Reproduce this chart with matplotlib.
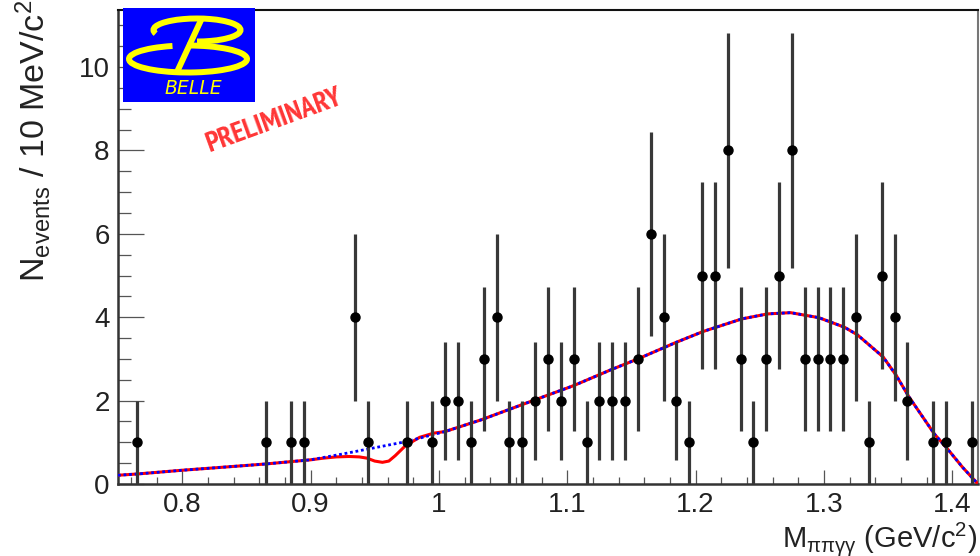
import numpy as np
import matplotlib
matplotlib.use('Agg')
import matplotlib.pyplot as plt
from matplotlib import font_manager
from matplotlib.patches import Arc
from matplotlib.ticker import MultipleLocator

plt.rcParams['font.family'] = ['Liberation Sans', 'DejaVu Sans']
plt.rcParams['mathtext.fontset'] = 'custom'
plt.rcParams['mathtext.rm'] = 'Liberation Sans'
plt.rcParams['mathtext.it'] = 'Liberation Sans:italic'

# data points (bin centres, 10 MeV bins)
mass = [0.765, 0.865, 0.885, 0.895, 0.935, 0.945, 0.975, 0.995,
        1.005, 1.015, 1.025, 1.035, 1.045, 1.055, 1.065, 1.075, 1.085,
        1.095, 1.105, 1.115, 1.125, 1.135, 1.145, 1.155, 1.165, 1.175,
        1.185, 1.195, 1.205, 1.215, 1.225, 1.235, 1.245, 1.255, 1.265,
        1.275, 1.285, 1.295, 1.305, 1.315, 1.325, 1.335, 1.345, 1.355,
        1.365, 1.385, 1.395, 1.415]
counts = [1, 1, 1, 1, 4, 1, 1, 1,
          2, 2, 1, 3, 4, 1, 1, 2, 3,
          2, 3, 1, 2, 2, 2, 3, 6, 4,
          2, 1, 5, 5, 8, 3, 1, 3, 5,
          8, 3, 3, 3, 3, 4, 1, 5, 4,
          2, 1, 1, 1]

# background curve (blue dotted)
bkg_x = [0.75, 0.765, 0.80, 0.835, 0.865, 0.90, 0.925, 0.945, 0.975,
         1.005, 1.033, 1.075, 1.105, 1.134, 1.155, 1.185, 1.206, 1.236,
         1.256, 1.274, 1.296, 1.316, 1.326, 1.346, 1.356, 1.366, 1.376,
         1.386, 1.396, 1.408, 1.42]
bkg_y = [0.21, 0.24, 0.33, 0.41, 0.48, 0.58, 0.72, 0.84, 1.02,
         1.26, 1.54, 2.02, 2.36, 2.74, 3.0, 3.40, 3.66, 3.96,
         4.08, 4.11, 3.99, 3.76, 3.58, 3.05, 2.62, 2.10, 1.65,
         1.20, 0.85, 0.40, 0.0]

# total fit in the dip region (red)
dip_x = [0.91, 0.92, 0.93, 0.938, 0.944, 0.950, 0.956, 0.961, 0.966,
         0.974, 0.985, 0.996]
dip_y = [0.62, 0.65, 0.66, 0.65, 0.62, 0.55, 0.52, 0.55, 0.68,
         0.92, 1.12, 1.22]

bx = np.array(bkg_x)
by = np.array(bkg_y)
tot_x = np.concatenate([bx[bx <= 0.90], dip_x, bx[bx >= 1.005]])
tot_y = np.concatenate([by[bx <= 0.90], dip_y, by[bx >= 1.005]])

# pick a narrow font for the stamp if one is around (narrow before condensed)
narrow = None
for key in ['narrow', 'condensed']:
    for f in font_manager.fontManager.ttflist:
        fn = f.fname.lower()
        if key in fn and 'bold' in fn and 'mono' not in fn and 'oblique' not in fn \
                and 'italic' not in fn:
            narrow = f.name
            break
    if narrow:
        break

fig = plt.figure(figsize=(9.8, 5.56), dpi=100)
ax = fig.add_axes([118 / 980, 1 - 484 / 556, 860 / 980, 474 / 556])

ax.plot(tot_x, tot_y, color='#ff0000', lw=2.2, zorder=3)
ax.plot(bkg_x, bkg_y, color='#0000ff', lw=2.0, ls=(0, (1, 1)), zorder=4)

err = np.sqrt(counts)
ax.errorbar(mass, counts, yerr=err, fmt='o', color='black', ms=6.5,
            ecolor='#383838', elinewidth=2.3, capsize=0, zorder=5)

ax.set_xlim(0.75, 1.42)
ax.set_ylim(0, 11.37)
ax.xaxis.set_major_locator(MultipleLocator(0.1))
ax.xaxis.set_minor_locator(MultipleLocator(0.02))
ax.yaxis.set_major_locator(MultipleLocator(2))
ax.yaxis.set_minor_locator(MultipleLocator(0.5))
ax.set_xticks([0.8, 0.9, 1.0, 1.1, 1.2, 1.3, 1.4])
ax.set_xticklabels(['0.8', '0.9', '1', '1.1', '1.2', '1.3', '1.4'])

ax.tick_params(axis='both', which='both', direction='in', colors='#555555',
               labelcolor='#222222', labelsize=20, width=0.9)
ax.tick_params(axis='x', which='major', length=10, pad=6)
ax.tick_params(axis='x', which='minor', length=5)
ax.tick_params(axis='y', which='major', length=19, pad=6)
ax.tick_params(axis='y', which='minor', length=9.5)
for side in ['left', 'bottom']:
    ax.spines[side].set_linewidth(1.8)
    ax.spines[side].set_color('#333333')
ax.spines['top'].set_linewidth(1.5)
ax.spines['top'].set_color('#111111')
ax.spines['right'].set_linewidth(1.5)
ax.spines['right'].set_color('#777777')

fig.text(977 / 980, 1 - 547 / 556, r'M$_{\mathrm{ππγγ}}$ (GeV/c$^{2}$)',
         ha='right', va='baseline', fontsize=21, color='#222222')
fig.text(53 / 980, 1 - 0 / 556, r'N$_{\mathrm{events}}$ / 10 MeV/c$^{2}$',
         rotation=90, ha='right', va='top', fontsize=24.5, color='#222222')

# Belle logo
logo = fig.add_axes([123 / 980, 1 - 102 / 556, 132 / 980, 94 / 556])
logo.set_facecolor('#0000ff')
logo.set_xlim(0, 132)
logo.set_ylim(0, 94)
logo.set_xticks([])
logo.set_yticks([])
for s in logo.spines.values():
    s.set_visible(False)
yel = '#ffff00'
logo.add_patch(Arc((74, 72), 87, 23, theta1=-90, theta2=185, color=yel, lw=4.3))
logo.add_patch(Arc((65, 43), 118, 27, theta1=140, theta2=92, color=yel, lw=4.3))
logo.plot([79, 54], [84, 30], color=yel, lw=4.3, solid_capstyle='butt')
logo.text(70, 14, 'BELLE', color=yel, fontsize=13.5, style='italic',
          ha='center', va='center', family='DejaVu Sans')

stamp_font = [narrow, 'DejaVu Sans'] if narrow else ['Roboto', 'DejaVu Sans']
stamp = fig.text(275 / 980, 1 - 121 / 556, 'PRELIMINARY', color='#ff1a1a',
                 alpha=0.88, fontsize=18, fontweight='bold', ha='center',
                 va='center', family=stamp_font)
# size the stamp so its length matches the reference (~143 px)
fig.canvas.draw()
w = stamp.get_window_extent().width
stamp.set_fontsize(18 * 143 / w)
stamp.set_rotation(20)

fig.savefig('out.png', dpi=100)
